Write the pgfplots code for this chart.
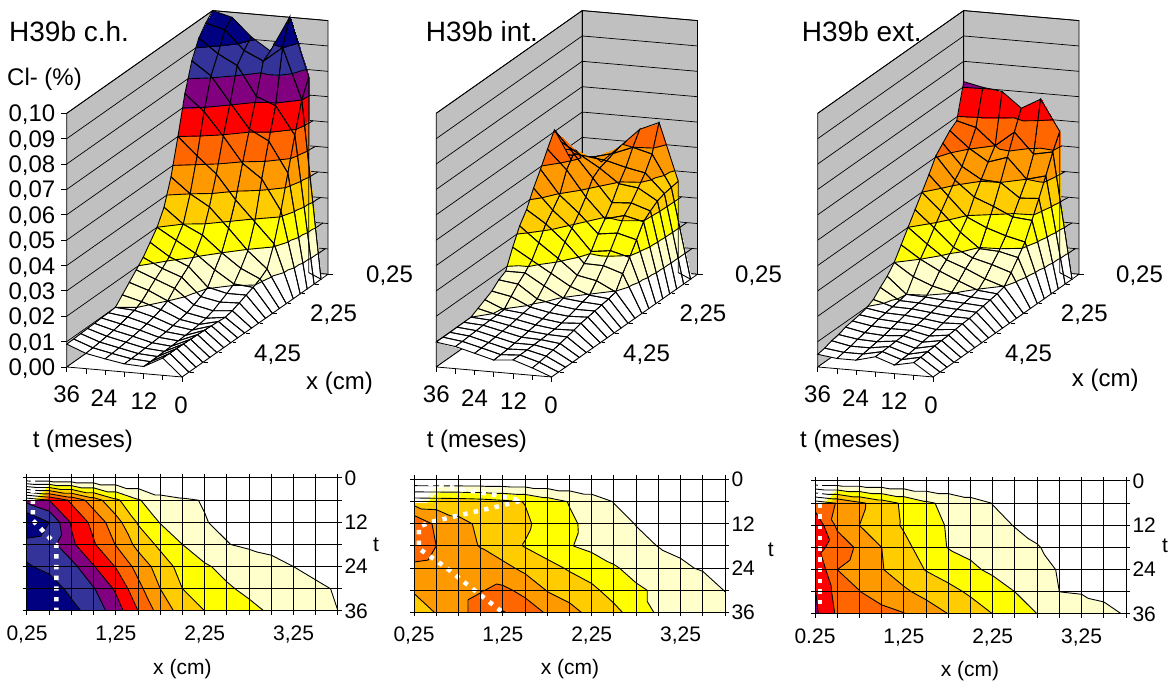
\documentclass[border=0pt]{standalone}
\usepackage{fontspec}
\usepackage{pgfplots}
\usepackage{pgfplotstable}
\pgfplotsset{compat=1.18}
\setmainfont{Liberation Sans}
\newcommand\fB{\fontsize{24}{25}\selectfont}
\newcommand\fT{\fontsize{28}{29}\selectfont}
\newcommand\fC{\fontsize{21}{22}\selectfont}
\definecolor{wallgray}{RGB}{192,192,192}
\pgfplotstableread[row sep=\\,header=false]{
.100\\.097\\.093\\.086\\.075\\.060\\.046\\.036\\.030\\.026\\.022\\.019\\.016\\.013\\.010\\.0098\\.0097\\.0095\\.0094\\.0093\\.0091\\.0090\\
.098\\.095\\.0875\\.0807\\.0685\\.053\\.040\\.030\\.0255\\.021\\.0183\\.016\\.0135\\.011\\.0095\\.0088\\.008\\.0074\\.007\\.0066\\.0063\\.006\\
.091\\.0875\\.0835\\.0707\\.0595\\.0465\\.0355\\.0263\\.021\\.0178\\.0155\\.013\\.010\\.0085\\.0075\\.0068\\.0062\\.0057\\.0053\\.005\\.0047\\.0045\\
.086\\.084\\.072\\.061\\.0495\\.037\\.0277\\.020\\.0152\\.0103\\.0085\\.0072\\.006\\.0053\\.0048\\.0043\\.004\\.0038\\.0036\\.0034\\.0033\\.0032\\
.100\\.090\\.069\\.057\\.044\\.029\\.0195\\.0145\\.0103\\.0085\\.007\\.0055\\.0045\\.004\\.0037\\.0035\\.0033\\.0031\\.003\\.0029\\.0028\\.0028\\
.077\\.070\\.058\\.045\\.032\\.021\\.013\\.011\\.0096\\.0085\\.0073\\.0062\\.0055\\.0058\\.006\\.0062\\.0064\\.0065\\.0066\\.0067\\.0067\\.0068\\
0\\0\\0\\0\\0\\0\\0\\0\\0\\0\\0\\0\\0\\0\\0\\0\\0\\0\\0\\0\\0\\0\\
}\tabA
\pgfplotstableread[row sep=\\,header=false]{
.034\\.0405\\.047\\.054\\.0607\\.055\\.049\\.0435\\.037\\.0325\\.026\\.0185\\.017\\.0145\\.013\\.0115\\.010\\.0099\\.0099\\.0098\\.0098\\.0098\\
.041\\.045\\.047\\.0495\\.052\\.0475\\.0395\\.0355\\.032\\.0265\\.0215\\.0185\\.016\\.013\\.0098\\.0096\\.0095\\.0094\\.0092\\.009\\.0088\\.0087\\
.048\\.047\\.046\\.045\\.043\\.0375\\.033\\.029\\.0255\\.021\\.017\\.014\\.0108\\.0095\\.009\\.0085\\.008\\.0077\\.0074\\.0071\\.0069\\.0067\\
.0552\\.050\\.044\\.0395\\.034\\.0295\\.0255\\.0205\\.0177\\.015\\.0125\\.0098\\.009\\.008\\.0075\\.007\\.0065\\.006\\.0056\\.0052\\.0049\\.0047\\
.0585\\.048\\.0425\\.0385\\.0345\\.0315\\.0265\\.0215\\.0175\\.0135\\.0097\\.009\\.008\\.0072\\.0065\\.006\\.0058\\.0057\\.0056\\.0055\\.0054\\.0054\\
.036\\.0355\\.035\\.034\\.032\\.0297\\.0245\\.0195\\.015\\.0097\\.009\\.0085\\.008\\.0075\\.007\\.0062\\.0055\\.0048\\.0042\\.0037\\.0032\\.0029\\
0\\0\\0\\0\\0\\0\\0\\0\\0\\0\\0\\0\\0\\0\\0\\0\\0\\0\\0\\0\\0\\0\\
}\tabB
\pgfplotstableread[row sep=\\,header=false]{
.072\\.0585\\.0565\\.0535\\.0505\\.045\\.040\\.035\\.030\\.025\\.020\\.0165\\.014\\.0112\\.0097\\.009\\.0085\\.008\\.007\\.0065\\.0055\\.005\\
.0704\\.0565\\.0503\\.045\\.0415\\.0372\\.033\\.0285\\.024\\.020\\.015\\.010\\.0095\\.009\\.0085\\.008\\.0072\\.0065\\.0058\\.005\\.0045\\.004\\
.0694\\.050\\.0455\\.0405\\.0355\\.0295\\.0255\\.0215\\.0185\\.016\\.012\\.0096\\.0092\\.0088\\.0082\\.0075\\.0068\\.006\\.0055\\.005\\.0045\\.004\\
.0635\\.056\\.048\\.040\\.0325\\.026\\.0197\\.018\\.0157\\.0127\\.0102\\.009\\.0085\\.008\\.0075\\.007\\.0068\\.0066\\.0064\\.0062\\.0061\\.006\\
.0677\\.048\\.040\\.0345\\.029\\.0235\\.0193\\.016\\.0123\\.0097\\.009\\.0085\\.008\\.0072\\.0065\\.0058\\.0052\\.0047\\.0042\\.0038\\.0036\\.0034\\
.0556\\.0495\\.042\\.035\\.0283\\.0217\\.0175\\.0135\\.0098\\.009\\.0085\\.008\\.0075\\.007\\.0068\\.0065\\.0062\\.006\\.0058\\.0055\\.0052\\.005\\
0\\0\\0\\0\\0\\0\\0\\0\\0\\0\\0\\0\\0\\0\\0\\0\\0\\0\\0\\0\\0\\0\\
}\tabC
% level lines of each strip of the mesh, found from the tables above
\makeatletter
\newcommand\storetable[2]{\def\curT{#2}%
  \foreach \r in {0,...,153}{\pgfplotstablegetelem{\r}{[index]0}\of#1%
    \expandafter\xdef\csname zv@#2@\r\endcsname{\pgfplotsretval}}}
\newcommand\Zval[2]{\csname zv@\curT @\the\numexpr#2*22+#1\relax\endcsname}
\newcommand\ecross[4]{%
  \edef\za{\Zval{#1}{#2}}\edef\zb{\Zval{#3}{#4}}%
  \ifnum\fpeval{(\za<\lev)+(\zb<\lev)}=1
    \edef\ff{\fpeval{(\lev-\za)/(\zb-\za)}}%
    \xdef\tmpseg{\tmpseg(\fpeval{round(#1+\ff*(#3-#1),3)},\fpeval{round(36-6*(#2+\ff*(#4-#2)),3)},\lev)}%
  \fi}
\newcommand\tri[6]{\gdef\tmpseg{}\ecross{#1}{#2}{#3}{#4}\ecross{#3}{#4}{#5}{#6}\ecross{#5}{#6}{#1}{#2}%
  \ifx\tmpseg\@empty\else\xdef\clist{\clist\tmpseg(nan,nan,nan)}\fi}
\newcommand\buildlines[2]{\storetable{#1}{#2}%
  \foreach \j in {0,...,5}{\gdef\clist{}\edef\jp{\the\numexpr\j+1}%
    \foreach \i in {0,...,20}{\edef\ip{\the\numexpr\i+1}%
      \foreach \lev in {0.01,0.02,0.03,0.04,0.05,0.06,0.07,0.08,0.09}{%
        \tri{\i}{\j}{\ip}{\j}{\i}{\jp}\tri{\ip}{\j}{\ip}{\jp}{\i}{\jp}}}%
    \expandafter\xdef\csname clist@#2@\j\endcsname{\clist}}}
\newcommand\levellines[2]{\edef\doit{\noexpand\addplot3[black,line width=.9pt,unbounded coords=jump,no markers,forget plot] coordinates {\csname clist@#1@#2\endcsname};}\doit}
\makeatother
\buildlines{\tabA}{A}
\buildlines{\tabB}{B}
\buildlines{\tabC}{C}
\pgfplotsset{
  colormap={bands}{
    rgb255(0cm)=(255,255,255) rgb255(0.997cm)=(255,255,255)
    rgb255(1.003cm)=(255,255,204) rgb255(1.997cm)=(255,255,204)
    rgb255(2.003cm)=(255,255,0) rgb255(2.997cm)=(255,255,0)
    rgb255(3.003cm)=(255,204,0) rgb255(3.997cm)=(255,204,0)
    rgb255(4.003cm)=(255,153,0) rgb255(4.997cm)=(255,153,0)
    rgb255(5.003cm)=(255,102,0) rgb255(5.997cm)=(255,102,0)
    rgb255(6.003cm)=(255,0,0) rgb255(6.997cm)=(255,0,0)
    rgb255(7.003cm)=(128,0,128) rgb255(7.997cm)=(128,0,128)
    rgb255(8.003cm)=(51,51,153) rgb255(8.997cm)=(51,51,153)
    rgb255(9.003cm)=(0,0,128) rgb255(10cm)=(0,0,128)
  },
  colormap={blk}{rgb255(0cm)=(0,0,0) rgb255(1cm)=(0,0,0)},
  /pgfplots/table/sfc/.style={x index=0,y index=0,z index=0,x expr={mod(\coordindex,22)},y expr={36-6*floor(\coordindex/22)}},
  threed/.style={x={(-6.95pt,-4.89pt)},y={(-3.203pt,0.278pt)},z={(0pt,2537pt)},
    anchor=origin,xmin=0,xmax=21,ymin=0,ymax=36,zmin=0,zmax=0.1,hide axis,clip=false,
    point meta min=0,point meta max=0.1,colormap name=bands},
  flat/.style={scale only axis,width=311pt,height=133pt,anchor=south west,
    view={0}{90},y dir=reverse,xmin=0,xmax=14,ymin=0,ymax=36,
    point meta min=0,point meta max=0.1,colormap name=bands,
    xtick={0,...,14},ytick={0,6,...,36},yticklabels={0,,12,,24,,36},
    grid=major,grid style={black,line width=1pt},axis on top,axis line style={black,line width=1pt},
    tick style={black,line width=1pt},tick align=outside,major tick length=4pt,
    yticklabel pos=right,
    ticklabel style={font=\fC},
    xticklabel style={yshift=-7pt},
    yticklabel style={xshift=-1pt}},
}
\newcommand\gl[1]{\addplot3[black,line width=.7pt,forget plot,no markers] coordinates {(21,36,#1)(0,36,#1)(0,0,#1)};}
\newcommand\zt[1]{\draw[black,line width=.8pt] (axis cs:21,36,#1) -- ++(-6pt,0pt);}
\newcommand\walls{%
  \addplot3[fill=wallgray,draw=black,line width=.8pt,forget plot,no markers] coordinates {(21,36,0)(0,36,0)(0,36,.1)(21,36,.1)(21,36,0)};
  \addplot3[fill=wallgray,draw=black,line width=.8pt,forget plot,no markers] coordinates {(0,36,0)(0,0,0)(0,0,.1)(0,36,.1)(0,36,0)};
  \addplot3[fill=white,draw=black,line width=.8pt,forget plot,no markers] coordinates {(21,36,0)(21,0,0)(0,0,0)(0,36,0)(21,36,0)};
  \gl{.01}\gl{.02}\gl{.03}\gl{.04}\gl{.05}\gl{.06}\gl{.07}\gl{.08}\gl{.09}\gl{.10}
  \addplot3[black,line width=1.2pt,forget plot,no markers] coordinates {(0,36,0)(0,36,.1)};
  \pgfplotsinvokeforeach{0,6,...,36}{\draw[black,line width=.8pt] (axis cs:21,##1,0) -- ++(0pt,-5pt);}
  \pgfplotsinvokeforeach{0,2,...,20}{\draw[black,line width=.8pt] (axis cs:##1,0,0) -- ++(5pt,0pt);}
}
% painted strip by strip from the back, so that nearer strips hide what is behind them
\newcommand\strip[3]{%
  \edef\sa{\the\numexpr22*#3\relax}\edef\sb{\the\numexpr22*(#3+2)\relax}%
  \edef\doit{\noexpand\addplot3[surf,shader=interp,z buffer=none,mesh/cols=22,point meta=z,forget plot,
     skip coords between index={0}{\sa},skip coords between index={\sb}{154}] table[sfc]{\noexpand#1};}\doit
  \levellines{#2}{#3}
  \edef\doit{\noexpand\addplot3[mesh,z buffer=none,mesh/cols=22,colormap name=blk,point meta=0,line width=.9pt,forget plot,
     skip coords between index={0}{\sa},skip coords between index={\sb}{154}] table[sfc]{\noexpand#1};}\doit
}
\newcommand\surfaceplot[2]{\strip{#1}{#2}{0}\strip{#1}{#2}{1}\strip{#1}{#2}{2}\strip{#1}{#2}{3}\strip{#1}{#2}{4}\strip{#1}{#2}{5}}
\newcommand\flatplot[2]{%
  \addplot3[surf,shader=interp,z buffer=none,mesh/cols=22,point meta=z,forget plot] table[sfc]{#1};
  \levellines{#2}{0}\levellines{#2}{1}\levellines{#2}{2}\levellines{#2}{3}\levellines{#2}{4}\levellines{#2}{5}}
\newcommand\TX[4]{\node[anchor=base west,inner sep=0pt,font=#4] at ({#1*1pt},{(684-#2)*1pt}) {#3};}
\newcommand\TC[4]{\node[anchor=base,inner sep=0pt,font=#4] at ({#1*1pt},{(684-#2)*1pt}) {#3};}
\newcommand\TE[4]{\node[anchor=base east,inner sep=0pt,font=#4] at ({#1*1pt},{(684-#2)*1pt}) {#3};}
\begin{document}
\begin{tikzpicture}[x=1pt,y=1pt]
\path[use as bounding box] (0,0) rectangle (1173pt,684pt);
% 3D surfaces
\begin{axis}[threed,at={(328pt,409.7pt)}]
\walls
\zt{0}\zt{.01}\zt{.02}\zt{.03}\zt{.04}\zt{.05}\zt{.06}\zt{.07}\zt{.08}\zt{.09}\zt{.10}
\surfaceplot{\tabA}{A}
\end{axis}
\begin{axis}[threed,at={(697.5pt,409.7pt)}]
\walls
\surfaceplot{\tabB}{B}
\end{axis}
\begin{axis}[threed,at={(1079pt,409.7pt)}]
\walls
\surfaceplot{\tabC}{C}
\end{axis}
% contour maps
\begin{axis}[flat,at={(27pt,73pt)},xticklabels={{0,25},,,,{1,25},,,,{2,25},,,,{3,25},,}]
\flatplot{\tabA}{A}
\addplot[white,line width=4.5pt,dash pattern=on 4.4pt off 6.3pt,forget plot,no markers] coordinates {(0.27,0)(0.27,11.5)(0.95,15.8)(1.32,18.1)(1.32,36)};
\end{axis}
\begin{axis}[flat,at={(414pt,71.5pt)},xticklabels={{0,25},,,,{1,25},,,,{2,25},,,,{3,25},,}]
\flatplot{\tabB}{B}
\addplot[white,line width=4.5pt,dash pattern=on 4.4pt off 6.3pt,forget plot,no markers] coordinates {(0.19,0.6)(2.14,2.6)(3.64,4.2)(4.84,5.7)(3.94,7.07)(1.99,9.76)(0.64,11.7)(0.22,12.9)(0.22,18.7)(1.39,23.6)(2.89,30.8)(4.01,36)};
\end{axis}
\begin{axis}[flat,at={(815pt,70pt)},xticklabels={{0.25},,,,{1,25},,,,{2,25},,,,{3,25},,}]
\flatplot{\tabC}{C}
\addplot[white,line width=4.5pt,dash pattern=on 4.4pt off 6.3pt,forget plot,no markers] coordinates {(0.22,0.35)(0.22,34)};
\end{axis}
% titles and labels
\TX{9}{42}{H39b c.h.}{\fT}
\TX{425.7}{42}{H39b int.}{\fT}
\TX{801.7}{42}{H39b ext.}{\fT}
\TX{7}{86}{Cl- (\%)}{\fB}
\TE{55.5}{122}{0,10}{\fB}
\TE{55.5}{147.3}{0,09}{\fB}
\TE{55.5}{172.7}{0,08}{\fB}
\TE{55.5}{198}{0,07}{\fB}
\TE{55.5}{223.4}{0,06}{\fB}
\TE{55.5}{248.8}{0,05}{\fB}
\TE{55.5}{274.2}{0,04}{\fB}
\TE{55.5}{299.5}{0,03}{\fB}
\TE{55.5}{325}{0,02}{\fB}
\TE{55.5}{350.3}{0,01}{\fB}
\TE{55.5}{375.7}{0,00}{\fB}
% t labels
\TC{66.7}{402.7}{36}{\fB}\TC{104}{406.7}{24}{\fB}\TC{144}{409.3}{12}{\fB}\TC{181}{413.3}{0}{\fB}
\TC{436.3}{402.7}{36}{\fB}\TC{474.5}{406.7}{24}{\fB}\TC{513.5}{409.3}{12}{\fB}\TC{551}{413.3}{0}{\fB}
\TC{817.5}{402.7}{36}{\fB}\TC{855.5}{406.7}{24}{\fB}\TC{894}{409.3}{12}{\fB}\TC{931}{413.3}{0}{\fB}
\TX{32.7}{448}{t (meses)}{\fB}
\TX{426.7}{448}{t (meses)}{\fB}
\TX{800}{448}{t (meses)}{\fB}
% x labels
\TX{366}{283}{0,25}{\fB}\TX{310}{322}{2,25}{\fB}\TX{254}{362}{4,25}{\fB}
\TX{735}{283}{0,25}{\fB}\TX{679.3}{322}{2,25}{\fB}\TX{623}{362}{4,25}{\fB}
\TX{1116}{283}{0,25}{\fB}\TX{1060.7}{322}{2,25}{\fB}\TX{1005}{362}{4,25}{\fB}
\TX{306}{390}{x (cm)}{\fB}
\TX{1071.7}{387}{x (cm)}{\fB}
% contour labels
\TX{153}{675}{x (cm)}{\fC}
\TX{540.7}{675}{x (cm)}{\fC}
\TX{940.7}{677}{x (cm)}{\fC}
\TX{373}{552}{t}{\fC}
\TX{767.7}{556.7}{t}{\fC}
\TX{1162}{553}{t}{\fC}
\end{tikzpicture}
\end{document}
